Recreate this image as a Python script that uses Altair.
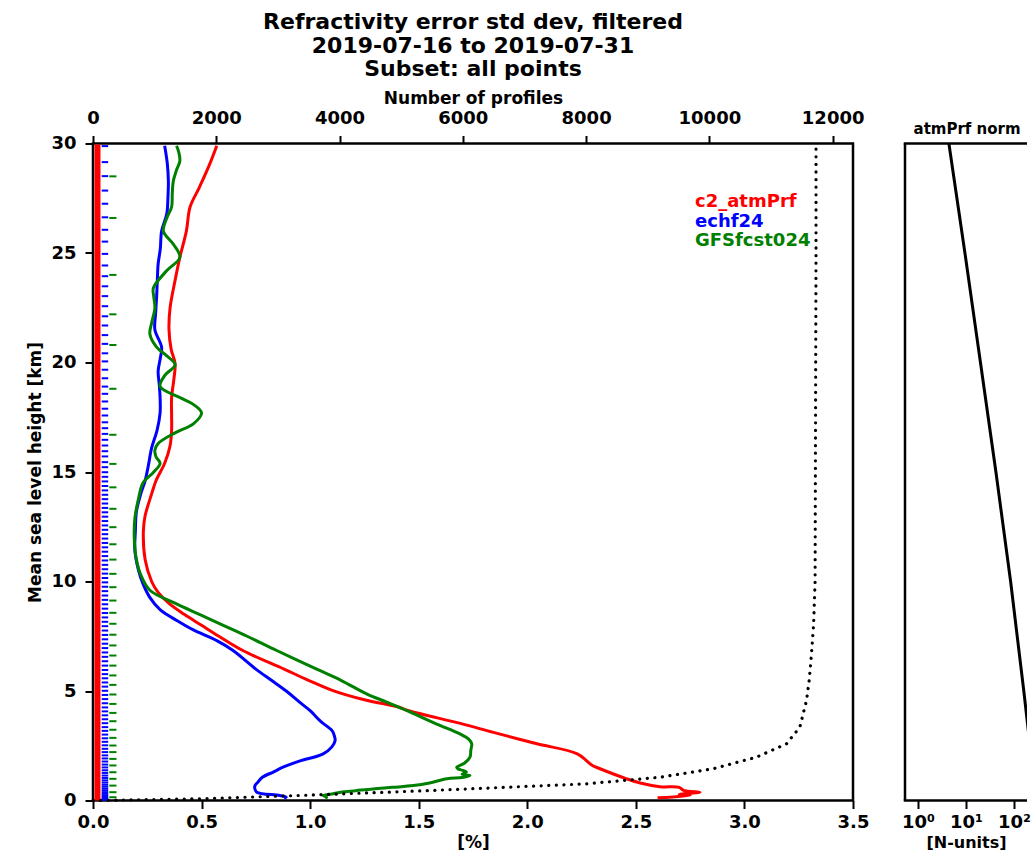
import altair as alt
import pandas as pd

FONT = "DejaVu Sans"

series = ["c2_atmPrf", "echf24", "GFSfcst024"]
colors = ["#ff0000", "#0000ff", "#008000"]

# c2_atmPrf refractivity error std dev [%] vs height [km]
red_h = [0.12, 0.23, 0.27, 0.38, 0.46, 0.60, 0.63, 0.80, 0.99, 1.45, 1.6, 2.13, 2.6, 3.12, 3.5,
         4.11, 4.26, 4.6, 5.02, 5.5, 6.0, 6.85, 7.5, 8.0, 8.5, 9.0, 9.5, 10.0, 11.0, 12.3, 13.0,
         14.0, 14.6, 15.4, 16.2, 16.9, 17.6, 18.4, 19.2, 19.95, 20.6, 21.5, 22.5, 23.75, 24.8,
         26.0, 27.1, 28.0, 29.0, 29.9]
red_v = [2.60, 2.75, 2.70, 2.795, 2.72, 2.70, 2.611, 2.52, 2.458, 2.335, 2.30, 2.23, 2.04, 1.84, 1.70,
         1.45, 1.41, 1.25, 1.105, 0.99, 0.88, 0.69, 0.58, 0.50, 0.42, 0.35, 0.30, 0.27, 0.24, 0.232, 0.24,
         0.27, 0.29, 0.33, 0.355, 0.362, 0.362, 0.362, 0.372, 0.378, 0.36, 0.35, 0.355, 0.378, 0.40,
         0.43, 0.447, 0.49, 0.535, 0.57]

# echf24
blue_h = [0.10, 0.15, 0.23, 0.38, 0.55, 0.68, 0.85, 1.06, 1.30, 1.52, 1.80, 2.13, 2.45, 2.74, 3.0,
          3.2, 3.6, 4.1, 4.5, 5.0, 5.5, 6.0, 6.85, 7.3, 7.8, 8.2, 8.7, 9.3, 9.9, 10.5, 11.4, 12.3,
          13.2, 14.0, 14.6, 15.3, 16.1, 16.9, 17.7, 18.4, 19.0, 19.6, 20.2, 20.7, 21.5, 22.2, 23.0,
          23.7, 24.5, 25.2, 26.0, 26.8, 27.5, 28.3, 29.1, 29.9]
blue_v = [0.88, 0.89, 0.86, 0.754, 0.745, 0.746, 0.76, 0.78, 0.83, 0.875, 0.95, 1.06, 1.10, 1.115, 1.11,
          1.10, 1.05, 1.00, 0.95, 0.89, 0.82, 0.75, 0.645, 0.57, 0.46, 0.39, 0.31, 0.26, 0.23, 0.21, 0.193, 0.195,
          0.20, 0.22, 0.24, 0.255, 0.27, 0.295, 0.309, 0.309, 0.305, 0.30, 0.31, 0.316, 0.285, 0.288, 0.293,
          0.296, 0.30, 0.31, 0.316, 0.34, 0.345, 0.347, 0.342, 0.33]

# GFSfcst024
green_h = [0.10, 0.15, 0.23, 0.30, 0.38, 0.45, 0.53, 0.60, 0.68, 0.80, 0.99, 1.05, 1.14, 1.20, 1.30,
           1.37, 1.45, 1.52, 1.70, 1.98, 2.30, 2.59, 2.80, 3.04, 3.5, 4.11, 4.5, 4.87, 5.5, 6.0, 6.85,
           7.5, 8.0, 8.5, 9.0, 9.6, 10.3, 11.0, 12.0, 12.9, 13.8, 14.5, 15.0, 15.4, 15.7, 16.0, 16.3,
           16.8, 17.2, 17.7, 18.1, 18.4, 18.9, 19.4, 19.9, 20.3, 20.7, 21.3, 21.8, 22.5, 23.0, 23.4,
           24.2, 24.8, 25.4, 26.0, 26.6, 27.1, 27.7, 28.3, 28.8, 29.2, 29.6, 29.9]
green_v = [1.07, 1.076, 1.06, 1.10, 1.14, 1.21, 1.29, 1.38, 1.475, 1.55, 1.63, 1.70, 1.736, 1.70, 1.72,
           1.705, 1.68, 1.675, 1.71, 1.736, 1.74, 1.744, 1.73, 1.69, 1.58, 1.444, 1.35, 1.26, 1.14, 1.03, 0.846,
           0.71, 0.60, 0.49, 0.38, 0.262, 0.22, 0.20, 0.19, 0.193, 0.21, 0.23, 0.28, 0.309, 0.29, 0.285, 0.30,
           0.38, 0.462, 0.50, 0.46, 0.40, 0.309, 0.33, 0.378, 0.34, 0.293, 0.262, 0.27, 0.285, 0.28, 0.278,
           0.34, 0.40, 0.37, 0.324, 0.34, 0.362, 0.365, 0.37, 0.385, 0.40, 0.395, 0.385]

# Number of profiles (top axis) vs height
count_h = [0.0, 0.08, 0.23, 0.46, 0.76, 1.06, 1.45, 1.98, 2.59, 3.35, 4.57, 5.5, 6.7, 8.0, 10.0,
           15.0, 20.0, 25.0, 30.0]
count_n = [0, 1735, 3357, 5515, 8000, 9197, 10062, 10765, 11252, 11468, 11576, 11620, 11657, 11690,
           11715, 11720, 11725, 11730, 11730]

# model level markers (heights, km)
red_levels_span = [0.0, 29.95]
blue_levels = [29.88, 29.15, 28.51, 27.85, 27.25, 26.63, 26.06, 25.52, 24.96, 24.43, 23.94, 23.48,
               23.03, 22.57, 22.11, 21.69, 21.25, 20.85, 20.42, 20.05, 19.67, 19.28, 18.90, 18.57,
               18.22, 17.89, 17.58, 17.27, 17.00, 16.74, 16.47, 16.21, 15.95, 15.71, 15.45, 15.22,
               14.99, 14.78, 14.57, 14.36, 14.16, 13.96, 13.76, 13.56, 13.36, 13.16, 12.96, 12.76,
               12.56, 12.36, 12.16, 11.96, 11.76, 11.56, 11.36, 11.16, 10.96, 10.76, 10.56, 10.36,
               10.16, 9.96, 9.76, 9.56, 9.36, 9.16, 8.96, 8.76, 8.56, 8.36, 8.16, 7.96, 7.76, 7.56,
               7.36, 7.16, 6.96, 6.76, 6.56, 6.36, 6.16, 5.96, 5.77, 5.58, 5.39, 5.20, 5.01, 4.82,
               4.63, 4.44, 4.25, 4.07, 3.89, 3.71, 3.53, 3.35, 3.18, 3.01, 2.84, 2.68, 2.52, 2.36,
               2.21, 2.06, 1.92, 1.78, 1.64, 1.51, 1.38, 1.26, 1.14, 1.03, 0.92, 0.82, 0.72, 0.63,
               0.54, 0.46, 0.38, 0.31, 0.24, 0.18, 0.12, 0.07, 0.03]
green_levels = [28.5, 26.6, 24.0, 22.2, 20.8, 18.8, 16.7, 15.37, 14.3, 13.32, 12.48, 11.7, 11.0, 10.35,
                9.74, 9.13, 8.57, 8.07, 7.57, 7.08, 6.62, 6.16, 5.71, 5.28, 4.84, 4.41, 4.0, 3.62,
                3.23, 2.86, 2.51, 2.21, 1.90, 1.60, 1.29, 0.99, 0.68, 0.38, 0.15]

# right panel: atmPrf norm [N-units]
norm_h = [0, 5, 10, 15, 20, 25, 30]
norm_N = [290, 160, 85, 42, 20, 9.5, 4.4]

title_lines = ["Refractivity error std dev, filtered", "2019-07-16 to 2019-07-31", "Subset: all points"]

# ---------- data tables ----------
rows = []
for name, hs, vs in zip(series, [red_h, blue_h, green_h], [red_v, blue_v, green_v]):
    for h, v in zip(hs, vs):
        rows.append({"series": name, "h": h, "v": v})
curves = pd.DataFrame(rows)
counts = pd.DataFrame({"h": count_h, "n": count_n})
blue_df = pd.DataFrame({"h": blue_levels})
green_df = pd.DataFrame({"h": green_levels})
red_df = pd.DataFrame({"h": [red_levels_span[0]], "h2": [red_levels_span[1]]})
norm_df = pd.DataFrame({"h": norm_h, "N": norm_N})
one = pd.DataFrame({"a": [0]})

W, H = 760, 657
RW = 122

xs = alt.Scale(domain=[0, 3.5], nice=False)
ys = alt.Scale(domain=[0, 30], nice=False)

lines = alt.Chart(curves).mark_line(strokeWidth=3, interpolate="catmull-rom").encode(
    x=alt.X("v:Q", scale=xs,
            axis=alt.Axis(values=[0, 0.5, 1, 1.5, 2, 2.5, 3, 3.5], format=".1f", title="[%]",
                          orient="bottom", labelPadding=5, titlePadding=3)),
    y=alt.Y("h:Q", scale=ys,
            axis=alt.Axis(values=[0, 5, 10, 15, 20, 25, 30], title="Mean sea level height [km]",
                          titlePadding=6, labelPadding=9)),
    color=alt.Color("series:N", scale=alt.Scale(domain=series, range=colors), legend=None),
    order="h:Q",
)

red_band = alt.Chart(red_df).mark_rule(color=colors[0], strokeWidth=6).encode(
    x=alt.datum(0.0207, scale=xs), y=alt.Y("h:Q", scale=ys), y2="h2:Q")
blue_ticks = alt.Chart(blue_df).mark_rule(color=colors[1], strokeWidth=2).encode(
    x=alt.datum(0.04), x2=alt.datum(0.07), y="h:Q")
green_ticks = alt.Chart(green_df).mark_rule(color=colors[2], strokeWidth=2).encode(
    x=alt.datum(0.075), x2=alt.datum(0.108), y="h:Q")

legend_layers = []
for i, (name, col) in enumerate(zip(series, colors)):
    legend_layers.append(
        alt.Chart(pd.DataFrame({"t": [name]})).mark_text(
            align="left", baseline="middle", font=FONT, fontSize=18, fontWeight="bold", color=col
        ).encode(text="t:N", x=alt.value(602), y=alt.value(58.5 + 19.5 * i))
    )

inner = alt.layer(red_band, blue_ticks, green_ticks, lines, *legend_layers)

dotted = alt.Chart(counts).mark_line(color="black", strokeWidth=3.2, strokeDash=[0.1, 7.5],
                                     strokeCap="round").encode(
    x=alt.X("n:Q", scale=alt.Scale(domain=[0, 12330], nice=False),
            axis=alt.Axis(orient="top", values=[0, 2000, 4000, 6000, 8000, 10000, 12000],
                          format="d", title="Number of profiles", titlePadding=2.5, labelPadding=8)),
    y=alt.Y("h:Q", scale=ys),
    order="h:Q",
)

left = alt.layer(inner, dotted).resolve_scale(x="independent").properties(
    width=W, height=H,
    title=alt.TitleParams(title_lines, anchor="middle", fontSize=22, lineHeight=23.5, offset=8),
)

norm_line = alt.Chart(norm_df).mark_line(color="black", strokeWidth=3, clip=True).encode(
    x=alt.X("N:Q", scale=alt.Scale(type="log", domain=[0.536, 186.5], nice=False),
            axis=alt.Axis(values=[1, 10, 100],
                          labelExpr="datum.value == 1 ? '10⁰' : datum.value == 10 ? '10¹' : '10²'",
                          title="[N-units]", titleFontSize=16, labelPadding=5, titlePadding=3)),
    y=alt.Y("h:Q", scale=alt.Scale(domain=[0, 30], nice=False), axis=None),
    order="h:Q",
)
frame_left = alt.Chart(one).mark_rule(color="black", strokeWidth=2.5).encode(
    x=alt.value(0), y=alt.value(0), y2=alt.value(H))
frame_top = alt.Chart(one).mark_rule(color="black", strokeWidth=2.5).encode(
    x=alt.value(-1.25), x2=alt.value(RW), y=alt.value(0))
frame_bottom = alt.Chart(one).mark_rule(color="black", strokeWidth=2.5).encode(
    x=alt.value(-1.25), x2=alt.value(RW), y=alt.value(H))

right = alt.layer(norm_line, frame_left, frame_top, frame_bottom).properties(
    width=RW, height=H,
    view=alt.ViewBackground(stroke="transparent"),
    title=alt.TitleParams("atmPrf norm", anchor="start", dx=12, fontSize=15, offset=5),
)

chart = alt.hconcat(left, right, spacing=52, bounds="flush").properties(
    padding={"left": 25, "top": 9.5, "right": 0, "bottom": 0}
).configure_view(
    stroke="black", strokeWidth=2.5
).configure_axis(
    labelFont=FONT, labelFontWeight="bold", labelFontSize=18, labelColor="black",
    titleFont=FONT, titleFontWeight="bold", titleFontSize=17, titleColor="black",
    tickSize=8, tickWidth=2, tickColor="black", domain=False, grid=False,
    labelPadding=3, labelFlush=False, labelOverlap=False,
).configure_title(
    font=FONT, fontWeight="bold", color="black", fontSize=19
)

chart.save("out.html", embed_options={"renderer": "svg", "actions": False})
